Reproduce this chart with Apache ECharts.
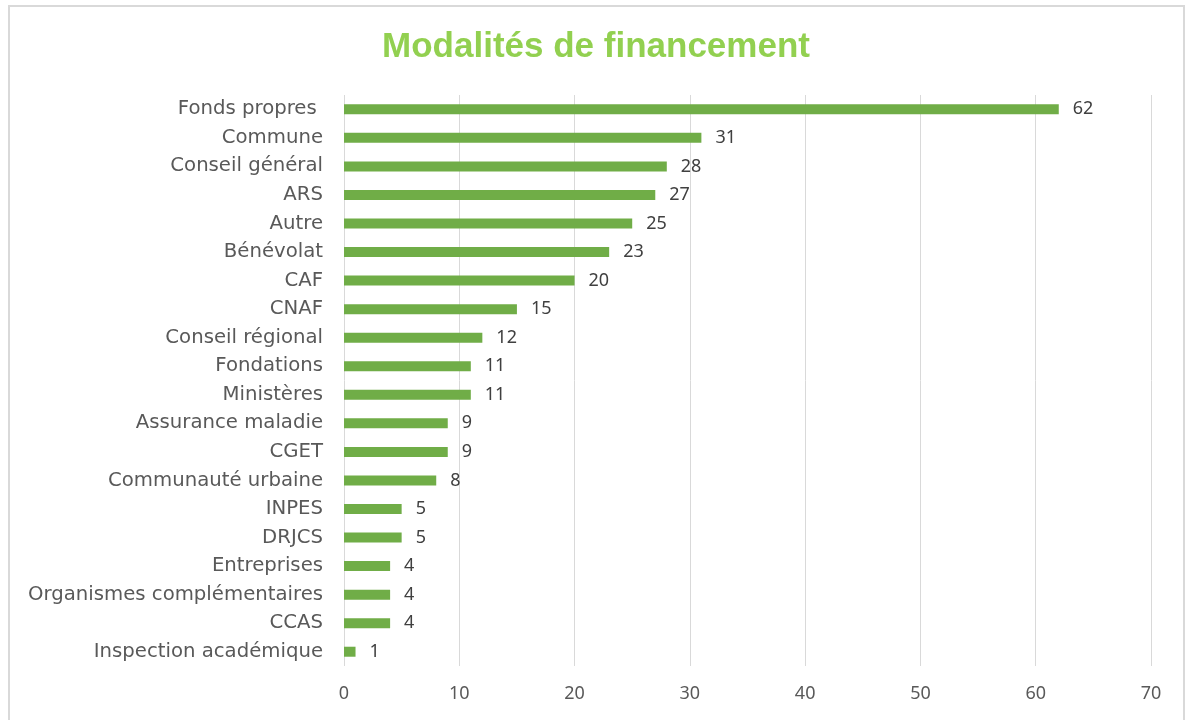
<!DOCTYPE html>
<html>
<head>
<meta charset="utf-8">
<script src="https://cdn.jsdelivr.net/npm/echarts@6/dist/echarts.min.js"></script>
<style>
  html, body { margin: 0; padding: 0; background: #fff; }
  #frame { position: absolute; left: 8px; top: 5px; width: 1177px; height: 730px; border: 2px solid #d9d9d9; box-sizing: border-box; }
  #chart { position: absolute; left: 0; top: 0; width: 1192px; height: 720px; }
</style>
</head>
<body>
<div id="frame"></div>
<div id="chart"></div>
<script>
const categories = [
  'Fonds propres ', 'Commune', 'Conseil général', 'ARS', 'Autre', 'Bénévolat', 'CAF', 'CNAF',
  'Conseil régional', 'Fondations', 'Ministères', 'Assurance maladie', 'CGET',
  'Communauté urbaine', 'INPES', 'DRJCS', 'Entreprises', 'Organismes complémentaires',
  'CCAS', 'Inspection académique'
];
const values = [62, 31, 28, 27, 25, 23, 20, 15, 12, 11, 11, 9, 9, 8, 5, 5, 4, 4, 4, 1];
const xTicks = [0, 10, 20, 30, 40, 50, 60, 70];

const chart = echarts.init(document.getElementById('chart'));

chart.setOption({
  animation: false,
  title: {
    text: 'Modalités de financement',
    left: 'center',
    top: 25,
    textStyle: {
      fontFamily: 'Liberation Sans',
      fontSize: 35,
      fontWeight: 'bold',
      color: '#92d050'
    }
  },
  grid: { left: 344, right: 41, top: 95, bottom: 54 },
  xAxis: {
    type: 'value',
    min: xTicks[0],
    max: xTicks[xTicks.length - 1],
    interval: 10,
    axisLine: { show: false },
    axisTick: { show: false },
    splitLine: { lineStyle: { color: '#d9d9d9', width: 1 } },
    axisLabel: {
      margin: 19,
      fontFamily: 'Noto Sans',
      fontSize: 18,
      color: '#595959'
    }
  },
  yAxis: {
    type: 'category',
    inverse: true,
    data: categories,
    axisLine: { show: false },
    axisTick: { show: false },
    axisLabel: {
      margin: 21,
      fontFamily: 'DejaVu Sans',
      fontSize: 19.7,
      color: '#595959'
    }
  },
  series: [{
    type: 'bar',
    data: values,
    barWidth: 10,
    itemStyle: { color: '#70ad47' },
    label: {
      show: true,
      position: 'right',
      distance: 14,
      fontFamily: 'Noto Sans',
      fontSize: 18,
      color: '#404040'
    }
  }]
});
</script>
</body>
</html>
